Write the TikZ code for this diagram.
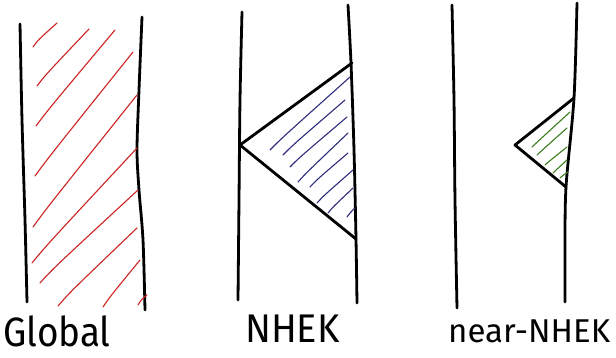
\documentclass[tikz,border=0pt]{standalone}
\usepackage{fontspec}
\setmainfont{Fira Sans}
\usetikzlibrary{calc}
\begin{document}
\begin{tikzpicture}[x=1pt,y=-1pt,
  wall/.style={line width=2.8pt,line cap=round,line join=round},
  redh/.style={line width=1.1pt,line cap=round,color=hred},
  blueh/.style={line width=1.1pt,line cap=round,color=hblue},
  greenh/.style={line width=1.1pt,line cap=round,color=hgreen},
  lab/.style={inner sep=0pt,anchor=base west,text depth=0pt}]
\definecolor{hred}{RGB}{205,35,35}
\definecolor{hblue}{RGB}{45,45,125}
\definecolor{hgreen}{RGB}{60,125,30}
\useasboundingbox (0,0) rectangle (616,357);
% ---- Global ----
\draw[wall] plot[smooth] coordinates {(20,24) (22,120) (25,220) (27,302)};
\draw[wall] plot[smooth] coordinates {(142,17) (139,90) (137,150) (139,190) (143,240) (145,310)};
\foreach \a/\b/\c/\d in {33/47/57/23, 37/86/89/29, 36/126/115/30, 35/176/133/52,
  33/227/137/95, 32/263/137/148, 40/283/138/190, 58/306/137/228, 103/307/140/260, 138/305/147/295}
  \draw[redh] (\a,\b) .. controls ($(\a,\b)!0.12!(\c,\d)+(2,-4)$) .. (\c,\d);
\node[lab,font=\fontsize{41}{41}\selectfont] (g) at (3,346) {\scalebox{0.9}[1]{Global}};
% ---- NHEK ----
\draw[wall] plot[smooth] coordinates {(242,12) (240,100) (239,200) (238,300)};
\draw[wall] plot[smooth] coordinates {(348,5) (351,63) (354,150) (356,239) (357,303)};
\draw[wall] (352,63) -- (240,145) -- (356,239);
\foreach \a/\b/\c/\d in {270/150/350/77, 283/155/345/100, 290/167/347/117, 298/182/348/133,
  310/187/348/153, 317/203/353/170, 328/213/353/188, 347/217/355/208}
  \draw[blueh] (\a,\b) .. controls ($(\a,\b)!0.12!(\c,\d)+(2,-3)$) .. (\c,\d);
\node[lab,font=\fontsize{40}{40}\selectfont] (n) at (245,342) {\scalebox{0.95}[1]{NHEK}};
% ---- near-NHEK ----
\draw[wall] plot[smooth] coordinates {(452,5) (454,100) (455,200) (457,308)};
\draw[wall] plot[smooth] coordinates {(577,3) (574,98) (566,187) (565,250) (565,302)};
\draw[wall] (574,98) -- (515,145) -- (566,187);
\foreach \a/\b/\c/\d in {532/147/570/112, 537/155/567/128, 545/165/567/147, 553/173/567/160, 560/178/568/172}
  \draw[greenh] (\a,\b) .. controls ($(\a,\b)!0.12!(\c,\d)+(2,-2)$) .. (\c,\d);
\node[lab,font=\fontsize{33}{33}\selectfont] (nn) at (448,342) {near-NHEK};
\end{tikzpicture}
\end{document}
